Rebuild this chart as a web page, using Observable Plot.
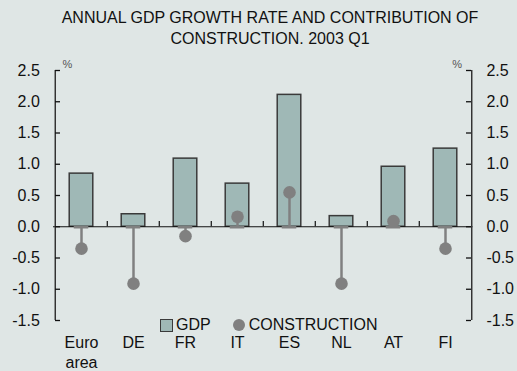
<!DOCTYPE html>
<html>
<head>
<meta charset="utf-8">
<script src="https://cdn.jsdelivr.net/npm/d3@7"></script>
<script src="https://cdn.jsdelivr.net/npm/@observablehq/plot@0.6"></script>
<style>
html,body{margin:0;padding:0;background:#dfe6e5;}
#wrap{position:relative;width:517px;height:371px;background:#dfe6e5;font-family:"Liberation Sans",Arial,sans-serif;color:#111;overflow:hidden;}
#title{box-sizing:border-box;width:517px;padding:7px 0 0 23px;text-align:center;font-size:16px;line-height:21px;height:49px;}
#legend{position:absolute;left:160px;top:317px;font-size:16px;line-height:16px;display:flex;align-items:center;white-space:nowrap;}
#legend .sq{width:11px;height:11px;background:#9fb8b6;border:1px solid #3a3a3a;margin-right:3px;}
#legend .dt{width:12px;height:12px;border-radius:50%;background:#808080;margin-left:22px;margin-right:4px;}
svg{display:block;}
</style>
</head>
<body>
<div id="wrap">
  <div id="title">ANNUAL GDP GROWTH RATE AND CONTRIBUTION OF<br>CONSTRUCTION. 2003 Q1</div>
  <div id="chart"></div>
  <div id="legend"><div class="sq"></div><span>GDP</span><div class="dt"></div><span>CONSTRUCTION</span></div>
</div>
<script>
const categories = ["Euro area", "DE", "FR", "IT", "ES", "NL", "AT", "FI"];
const gdp = [0.85, 0.20, 1.09, 0.69, 2.11, 0.17, 0.96, 1.25];
const construction = [-0.35, -0.91, -0.15, 0.16, 0.55, -0.91, 0.09, -0.35];
const yTicks = [-1.5, -1.0, -0.5, 0.0, 0.5, 1.0, 1.5, 2.0, 2.5];
const unitLabel = "%";

const data = categories.map((c, i) => ({country: c, gdp: gdp[i], construction: construction[i]}));

const W = 517, H = 322, mL = 53, mR = 44.5, mT = 21, mB = 51;
const step = (W - mL - mR) / categories.length;
const barInset = (step - 24) / 2;
const segInset = (step - 15) / 2;
const tickLen = 5;
const fmt = d => d.toFixed(1);
const first = categories[0], last = categories[categories.length - 1];

const chart = Plot.plot({
  width: W, height: H,
  marginLeft: mL, marginRight: mR, marginTop: mT, marginBottom: mB,
  style: {background: "transparent", fontFamily: "'Liberation Sans', Arial, sans-serif", fontSize: "16px", color: "#111", overflow: "visible"},
  x: {domain: categories, padding: 0, axis: null, label: null},
  y: {domain: [-1.5, 2.5], axis: null, label: null},
  marks: [
    Plot.barY(data, {x: "country", y1: 0, y2: "gdp", fill: "#9fb8b6", stroke: "#3a3a3a", strokeWidth: 1.5, insetLeft: barInset, insetRight: barInset}),
    Plot.ruleY([0], {stroke: "#111", strokeWidth: 1.2}),
    Plot.ruleX(categories.slice(1), {x: d => d, y1: 0, y2: 0.085, dx: -step / 2, stroke: "#111", strokeWidth: 1.2}),
    Plot.ruleX([first], {x: d => d, dx: -step / 2, stroke: "#333", strokeWidth: 1.5}),
    Plot.ruleX([last], {x: d => d, dx: step / 2, stroke: "#333", strokeWidth: 1.5}),
    Plot.ruleY(yTicks, {y: d => d, x1: () => first, x2: () => first, stroke: "#111", strokeWidth: 1.3, render: (index, scales, values, dims, context, next) => {
      const g = next(index, scales, values, dims, context);
      g.querySelectorAll("line").forEach(l => { const x = +l.getAttribute("x1"); l.setAttribute("x2", x + tickLen); });
      return g;
    }}),
    Plot.ruleY(yTicks, {y: d => d, x1: () => last, x2: () => last, stroke: "#111", strokeWidth: 1.3, render: (index, scales, values, dims, context, next) => {
      const g = next(index, scales, values, dims, context);
      g.querySelectorAll("line").forEach(l => { const x = +l.getAttribute("x2"); l.setAttribute("x1", x - tickLen); });
      return g;
    }}),
    Plot.tickY(data, {x: "country", y: 0, stroke: "#808080", strokeWidth: 2.5, dy: 0.5, insetLeft: segInset, insetRight: segInset}),
    Plot.ruleX(data, {x: "country", y1: 0, y2: "construction", stroke: "#808080", strokeWidth: 2.5}),
    Plot.dot(data, {x: "country", y: "construction", r: 6.3, fill: "#808080"}),
    Plot.axisY(yTicks, {anchor: "left", tickSize: 0, tickPadding: 13.7, tickFormat: fmt, fontSize: 16, label: null}),
    Plot.axisY(yTicks, {anchor: "right", tickSize: 0, tickPadding: 13.4, tickFormat: fmt, fontSize: 16, label: null}),
    Plot.axisX({anchor: "bottom", tickSize: 0, tickPadding: 13, fontSize: 16, lineHeight: 1.25, label: null, tickFormat: d => d.replace(" ", "\n")}),
    Plot.text([unitLabel], {text: d => d, frameAnchor: "top-left", dx: 9, dy: -10, fontSize: 11, fill: "#555"}),
    Plot.text([unitLabel], {text: d => d, frameAnchor: "top-right", dx: -11, dy: -10, fontSize: 11, fill: "#555"})
  ]
});
document.getElementById("chart").appendChild(chart);
</script>
</body>
</html>
